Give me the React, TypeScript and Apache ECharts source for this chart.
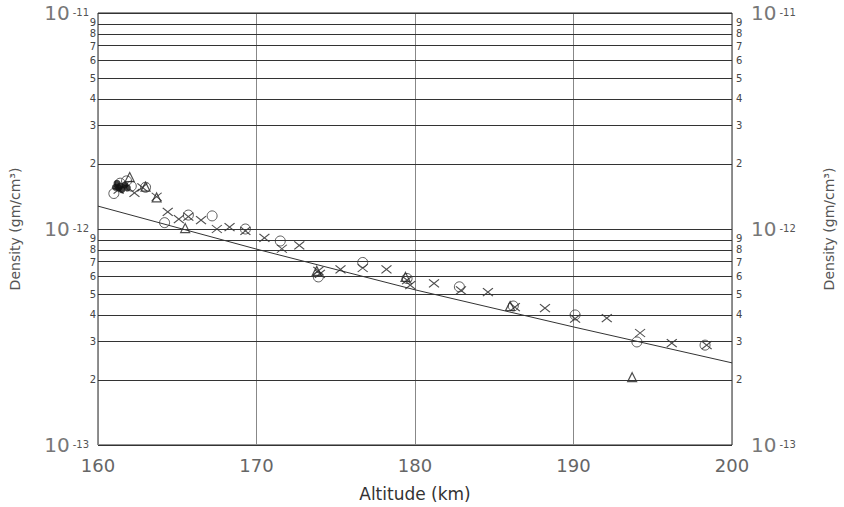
import React, { useEffect, useRef } from "react";
import * as echarts from "echarts";

// Altitude (km), density (gm/cm^3)
const crossAlt = [161.3, 162.3, 162.8, 163.7, 164.4, 165.1, 165.7, 166.5, 167.5, 168.3, 169.3, 170.5, 171.6, 172.7, 173.9, 174.0, 175.3, 176.7, 178.2, 179.5, 179.7, 181.2, 182.9, 184.6, 186.3, 188.2, 190.1, 192.1, 194.2, 196.2, 198.4];
const crossDen = [1.52e-12, 1.47e-12, 1.56e-12, 1.41e-12, 1.2e-12, 1.11e-12, 1.14e-12, 1.1e-12, 1.0e-12, 1.02e-12, 0.98e-12, 0.91e-12, 0.81e-12, 0.84e-12, 0.64e-12, 0.62e-12, 0.65e-12, 0.66e-12, 0.65e-12, 0.58e-12, 0.55e-12, 0.56e-12, 0.52e-12, 0.51e-12, 0.435e-12, 0.43e-12, 0.385e-12, 0.387e-12, 0.33e-12, 0.296e-12, 0.29e-12];

const circleAlt = [161.0, 161.4, 161.8, 162.1, 163.0, 164.2, 165.7, 167.2, 169.3, 171.5, 173.9, 176.7, 179.5, 182.8, 186.2, 190.1, 194.0, 198.3];
const circleDen = [1.46e-12, 1.63e-12, 1.67e-12, 1.58e-12, 1.56e-12, 1.07e-12, 1.16e-12, 1.15e-12, 1.0e-12, 0.88e-12, 0.6e-12, 0.7e-12, 0.59e-12, 0.54e-12, 0.44e-12, 0.4e-12, 0.3e-12, 0.29e-12];

const triAlt = [162.0, 163.0, 163.7, 165.5, 173.8, 179.4, 186.0, 193.7];
const triDen = [1.74e-12, 1.57e-12, 1.4e-12, 1.01e-12, 0.64e-12, 0.6e-12, 0.44e-12, 0.206e-12];

const filledAlt = [161.2, 161.3, 161.5, 161.7, 161.85, 161.4, 161.1];
const filledDen = [1.63e-12, 1.55e-12, 1.52e-12, 1.6e-12, 1.55e-12, 1.58e-12, 1.56e-12];

const fitAlt = [160, 170, 180, 190, 200];
const fitDen = [1.276e-12, 0.807e-12, 0.523e-12, 0.352e-12, 0.24e-12];

const decades = [-13, -12];
const topDecade = -11;
const mantissas = [1, 2, 3, 4, 5, 6, 7, 8, 9];

const FONT = "DejaVu Sans";

function pairs(xs: number[], ys: number[]) {
  return xs.map((x, i) => [x, Math.log10(ys[i])]);
}

export default function App() {
  const ref = useRef<HTMLDivElement>(null);
  useEffect(() => {
    if (!ref.current) return;
    const chart = echarts.init(ref.current, null, { renderer: "svg" });

    const gridVals: number[] = [];
    decades.forEach((d) => mantissas.forEach((m) => gridVals.push(d + Math.log10(m))));
    gridVals.push(topDecade);
    // label order: top decade first, bottom decade second, so the library's
    // first/last-label overlap check never drops a neighbouring digit
    const labelVals = [topDecade, decades[0], ...gridVals.filter((v) => v !== topDecade && v !== decades[0])];

    const fmt = (val: number) => {
      const r = Math.round(val);
      if (Math.abs(val - r) < 1e-6) return `{a|10}{b|${r}}`;
      const k = Math.round(Math.pow(10, val - Math.floor(val + 1e-9)));
      return `{c|${k}}`;
    };

    const yBase = {
      type: "value",
      min: -13,
      max: -11,
      axisLine: { show: false },
      axisTick: { show: false },
      splitLine: { show: false },
      name: "Density (gm/cm³)",
      nameLocation: "middle",
      nameRotate: 90,
      nameTextStyle: { fontFamily: FONT, fontSize: 14, color: "#555" },
    };

    const option: any = {
      animation: false,
      backgroundColor: "#fff",
      grid: {
        left: 91,
        right: 103,
        top: 13,
        bottom: 62,
        show: true,
        borderColor: "#222",
        borderWidth: 1,
        backgroundColor: "transparent",
      },
      xAxis: {
        type: "value",
        min: 160,
        max: 200,
        interval: 10,
        axisLine: { show: false },
        axisTick: { show: false },
        splitLine: { show: true, lineStyle: { color: "#888", width: 1 } },
        axisLabel: { fontFamily: FONT, fontSize: 18, color: "#666", margin: 11 },
        name: "Altitude (km)",
        nameLocation: "middle",
        nameGap: 40,
        nameTextStyle: { fontFamily: FONT, fontSize: 17, color: "#333" },
      },
      yAxis: [
        {
          ...yBase,
          position: "left",
          nameGap: 76,
          axisLabel: {
            customValues: labelVals,
            formatter: fmt,
            margin: 2,
            align: "right",
            showMinLabel: true,
            showMaxLabel: true,
            hideOverlap: false,
            rich: {
              a: { fontFamily: FONT, fontSize: 20, lineHeight: 12, color: "#777" },
              b: { fontFamily: FONT, fontSize: 10, lineHeight: 9, color: "#555", verticalAlign: "top", padding: [0, 7, 0, 3] },
              c: { fontFamily: FONT, fontSize: 10, lineHeight: 8, color: "#444" },
            },
          },
        },
        {
          ...yBase,
          position: "right",
          nameGap: 90,
          axisLabel: {
            customValues: labelVals,
            formatter: fmt,
            margin: 4,
            align: "left",
            showMinLabel: true,
            showMaxLabel: true,
            hideOverlap: false,
            rich: {
              a: { fontFamily: FONT, fontSize: 20, lineHeight: 12, color: "#777", padding: [0, 0, 0, 15] },
              b: { fontFamily: FONT, fontSize: 10, lineHeight: 9, color: "#555", verticalAlign: "top", padding: [0, 0, 0, 3] },
              c: { fontFamily: FONT, fontSize: 10, lineHeight: 8, color: "#444" },
            },
          },
        },
      ],
      series: [
        {
          type: "line",
          data: pairs(fitAlt, fitDen),
          showSymbol: false,
          symbol: "none",
          lineStyle: { color: "#333", width: 1 },
          silent: true,
          markLine: {
            silent: true,
            symbol: "none",
            label: { show: false },
            lineStyle: { color: "#333", width: 1, type: "solid" },
            data: gridVals.map((v) => ({ yAxis: v })),
          },
          z: 3,
        },
        {
          type: "scatter",
          data: pairs(crossAlt, crossDen),
          symbol: "path://M0 0L10 8M10 0L0 8",
          symbolSize: [10, 8],
          itemStyle: { color: "transparent", borderColor: "#222", borderWidth: 1.1 },
          z: 4,
        },
        {
          type: "scatter",
          data: pairs(circleAlt, circleDen),
          symbol: "circle",
          symbolSize: 10,
          itemStyle: { color: "transparent", borderColor: "#333", borderWidth: 1 },
          z: 4,
        },
        {
          type: "scatter",
          data: pairs(triAlt, triDen),
          symbol: "triangle",
          symbolSize: 9,
          itemStyle: { color: "transparent", borderColor: "#222", borderWidth: 1.2 },
          z: 4,
        },
        {
          type: "scatter",
          data: pairs(filledAlt, filledDen),
          symbol: "circle",
          symbolSize: 7,
          itemStyle: { color: "#111" },
          z: 5,
        },
      ],
    };
    chart.setOption(option);
    return () => chart.dispose();
  }, []);
  return <div ref={ref} style={{ width: 844, height: 507, position: "absolute", left: 0, top: 0 }} />;
}
